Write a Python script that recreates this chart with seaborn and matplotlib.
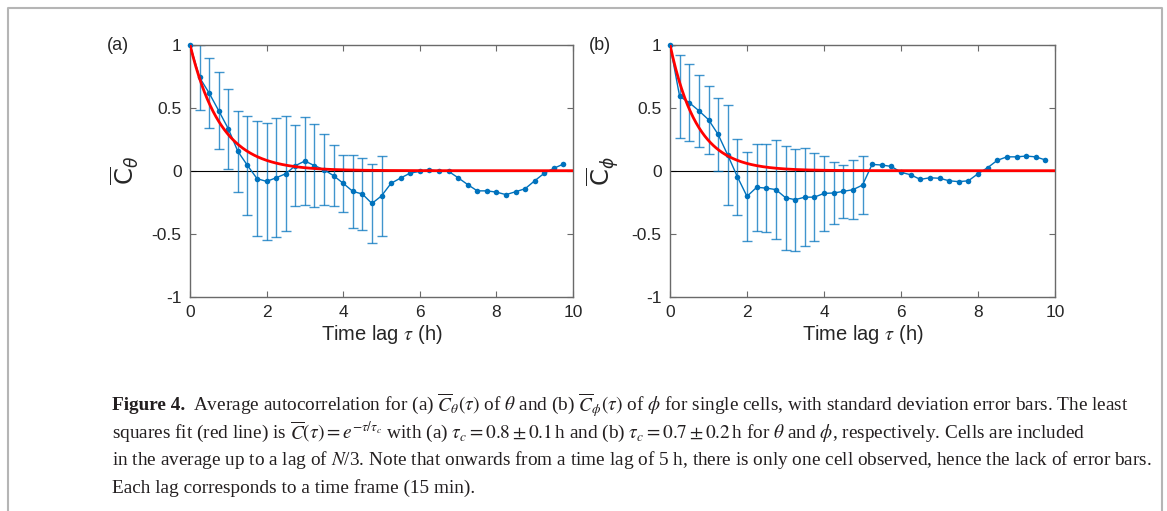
import numpy as np
import pandas as pd
import seaborn as sns
import matplotlib.pyplot as plt
from matplotlib.lines import Line2D

# lag in hours (one lag = 15 min)
lag_h = np.arange(40) * 0.25
n_err = 21  # error bars only up to 5 h

theta_mean = [1.0, 0.74, 0.616, 0.476, 0.333, 0.153, 0.042, -0.063, -0.085, -0.056,
              -0.024, 0.04, 0.077, 0.04, 0.008, -0.04, -0.1, -0.164, -0.185, -0.26,
              -0.2, -0.1, -0.058, -0.019, -0.005, 0.008, -0.005, -0.005, -0.056, -0.11,
              -0.16, -0.16, -0.17, -0.19, -0.167, -0.143, -0.08, -0.02, 0.019, 0.053]
theta_std = [0.0, 0.259, 0.275, 0.304, 0.317, 0.321, 0.392, 0.455, 0.464, 0.474,
             0.455, 0.321, 0.347, 0.331, 0.284, 0.241, 0.225, 0.287, 0.282, 0.31, 0.315]

phi_mean = [1.0, 0.59, 0.54, 0.476, 0.405, 0.288, 0.124, -0.048, -0.204, -0.132,
            -0.138, -0.15, -0.214, -0.23, -0.21, -0.21, -0.18, -0.177, -0.164, -0.151,
            -0.114, 0.05, 0.045, 0.034, -0.013, -0.032, -0.069, -0.056, -0.06, -0.08,
            -0.087, -0.08, -0.024, 0.024, 0.082, 0.11, 0.11, 0.116, 0.11, 0.085]
phi_std = [0.0, 0.328, 0.304, 0.286, 0.269, 0.292, 0.4, 0.302, 0.356, 0.345,
           0.349, 0.394, 0.414, 0.405, 0.389, 0.348, 0.296, 0.247, 0.208, 0.234, 0.229]

# fitted correlation times (h)
tau_c = {'theta': 0.8, 'phi': 0.7}

sns.set_style('ticks')
plt.rcParams['font.family'] = ['Liberation Sans', 'DejaVu Sans']
plt.rcParams['mathtext.fontset'] = 'stix'

blue = '#0072BD'
axcol = '#6a6a6a'

fig = plt.figure(figsize=(11.67, 5.11), dpi=100)
ax_a = fig.add_axes([190 / 1167, 1 - 296.7 / 511, 383 / 1167, 252 / 511])
ax_b = fig.add_axes([670 / 1167, 1 - 296.7 / 511, 385 / 1167, 252 / 511])

panels = [
    (ax_a, theta_mean, theta_std, tau_c['theta'], r'$\overline{\mathrm{C}}_{\theta}$', '(a)', 118),
    (ax_b, phi_mean, phi_std, tau_c['phi'], r'$\overline{\mathrm{C}}_{\phi}$', '(b)', 600),
]

tau_fine = np.linspace(0, 10, 400)
for ax, mean, std, tc, ylab, tag, tag_x in panels:
    ax.axhline(0, color='black', lw=0.8, zorder=1)
    ax.errorbar(lag_h[:n_err], mean[:n_err], yerr=std, fmt='none', ecolor=blue,
                alpha=0.75, elinewidth=1.0, capsize=3.5, capthick=1.0, zorder=2)
    df = pd.DataFrame({'lag': lag_h, 'C': mean})
    sns.lineplot(data=df, x='lag', y='C', ax=ax, color=blue, lw=1.0, marker='o',
                 markersize=4, markeredgewidth=0, zorder=3, clip_on=False)
    fit = pd.DataFrame({'lag': tau_fine, 'C': np.exp(-tau_fine / tc)})
    sns.lineplot(data=fit, x='lag', y='C', ax=ax, color='#ff0000', lw=2.0, zorder=4)

    ax.set_xlim(0, 10)
    ax.set_ylim(-1, 1)
    ax.set_xticks([0, 2, 4, 6, 8, 10])
    ax.set_yticks([-1, -0.5, 0, 0.5, 1])
    ax.set_yticklabels(['-1', '-0.5', '0', '0.5', '1'])
    ax.tick_params(direction='in', length=4, width=0.8, color=axcol, labelsize=12.5,
                   labelcolor='#262626', top=True, right=True, pad=6)
    for sp in ax.spines.values():
        sp.set_visible(True)
        sp.set_color(axcol)
        sp.set_linewidth(1.0)
    ax.set_xlabel(r'Time lag $\tau$ (h)', fontsize=14.5, color='#262626', labelpad=2)
    ax.set_ylabel(ylab, fontsize=17.5, color='#262626', labelpad=8,
                  math_fontfamily='dejavusans')
    fig.text(tag_x / 1167, 1 - 46 / 511, tag, fontsize=13, color='#262626',
             ha='center', va='center')

# outer frame
fc = '#b5b5b5'
fig.add_artist(Line2D([8 / 1167, 8 / 1167, 1162 / 1167, 1162 / 1167],
                      [0, 1 - 8 / 511, 1 - 8 / 511, 0], color=fc, lw=1.5,
                      transform=fig.transFigure))

# caption
cap_font = dict(family=['Liberation Serif', 'DejaVu Serif'], fontsize=13.9, color='#231f20',
                va='center', ha='left')
lines = [
    r'Average autocorrelation for (a) $\overline{C}_{\theta}(\tau)$ of $\theta$ and (b) '
    r'$\overline{C}_{\phi}(\tau)$ of $\phi$ for single cells, with standard deviation error bars. The least',
    r'squares fit (red line) is $\overline{C}(\tau)=e^{-\tau/\tau_c}$ with (a) $\tau_c=0.8\pm0.1\,$h '
    r'and (b) $\tau_c=0.7\pm0.2\,$h for $\theta$ and $\phi$, respectively. Cells are included',
    r'in the average up to a lag of $N$/3. Note that onwards from a time lag of 5 h, there is only '
    r'one cell observed, hence the lack of error bars.',
    r'Each lag corresponds to a time frame (15 min).',
]
ys = [405, 432, 460, 488]
x0 = 112 / 1167
bold = fig.text(x0, 1 - ys[0] / 511, 'Figure 4.', fontweight='bold', **cap_font)
fig.canvas.draw()
bb = bold.get_window_extent().transformed(fig.transFigure.inverted())
fig.text(bb.x1 + 8 / 1167, 1 - ys[0] / 511, lines[0], **cap_font)
for txt, y in zip(lines[1:], ys[1:]):
    fig.text(x0, 1 - y / 511, txt, **cap_font)

fig.savefig('out.png', dpi=100)
